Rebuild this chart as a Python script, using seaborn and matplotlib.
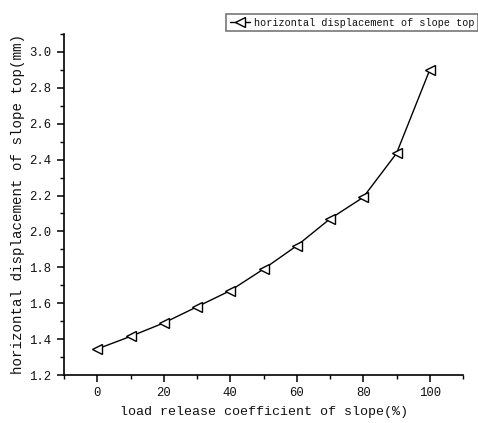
import matplotlib
matplotlib.use("Agg")
import matplotlib.pyplot as plt
import seaborn as sns
import pandas as pd
from matplotlib.ticker import MultipleLocator, FormatStrFormatter

x_vals = [0, 10, 20, 30, 40, 50, 60, 70, 80, 90, 100]
y_vals = [1.345, 1.415, 1.49, 1.58, 1.67, 1.79, 1.92, 2.07, 2.19, 2.435, 2.90]
series_name = "horizontal displacement of slope top"
x_label = "load release coefficient of slope(%)"
y_label = "horizontal displacement of slope top(mm)"
x_ticks = [0, 20, 40, 60, 80, 100]

sns.set_theme(style="ticks")
plt.rcParams['font.family'] = ['Liberation Mono', 'DejaVu Sans']

df = pd.DataFrame({"x": x_vals, "y": y_vals})

fig = plt.figure(figsize=(4.78, 4.23), dpi=100)
ax = fig.add_axes([64/478, 1-375/423, (463-64)/478, (375-34)/423])

sns.lineplot(data=df, x="x", y="y", ax=ax, color="black", linewidth=1,
             marker="<", markersize=7.5, markerfacecolor="white",
             markeredgecolor="black", markeredgewidth=1.0, label=series_name)

ax.set_xlim(-10, 110)
ax.set_ylim(1.2, 3.1)
ax.set_xticks(x_ticks)
ax.set_xticklabels([str(v) for v in x_ticks])
ax.xaxis.set_minor_locator(MultipleLocator(10))
ax.yaxis.set_major_locator(MultipleLocator(0.2))
ax.yaxis.set_minor_locator(MultipleLocator(0.1))
ax.yaxis.set_major_formatter(FormatStrFormatter('%.1f'))

for s in ["top", "right"]:
    ax.spines[s].set_visible(False)
for s in ["left", "bottom"]:
    ax.spines[s].set_color("black")
    ax.spines[s].set_linewidth(1.2)

ax.tick_params(axis="both", which="major", direction="out", length=5, width=1.1,
               colors="black", labelsize=8.8, pad=4)
ax.tick_params(axis="both", which="minor", direction="out", length=3, width=1.0,
               colors="black")
for lbl in ax.get_xticklabels() + ax.get_yticklabels():
    lbl.set_color("#111111")

ax.set_xlabel(x_label, fontsize=9.6, color="#111111", labelpad=5)
ax.set_ylabel(y_label, fontsize=10.2, color="#111111", labelpad=3)

ax.get_legend().remove()
h, l = ax.get_legend_handles_labels()
leg = fig.legend(h, l, loc="upper left", bbox_to_anchor=(226/478, 1-14/423),
                 fontsize=7.3, frameon=True, fancybox=False, borderpad=0.35,
                 handlelength=2.0, handletextpad=0.4, borderaxespad=0)
leg.get_frame().set_edgecolor("#555555")
leg.get_frame().set_linewidth(1.2)
for t in leg.get_texts():
    t.set_color("#111111")

fig.savefig("out.png", dpi=100)
